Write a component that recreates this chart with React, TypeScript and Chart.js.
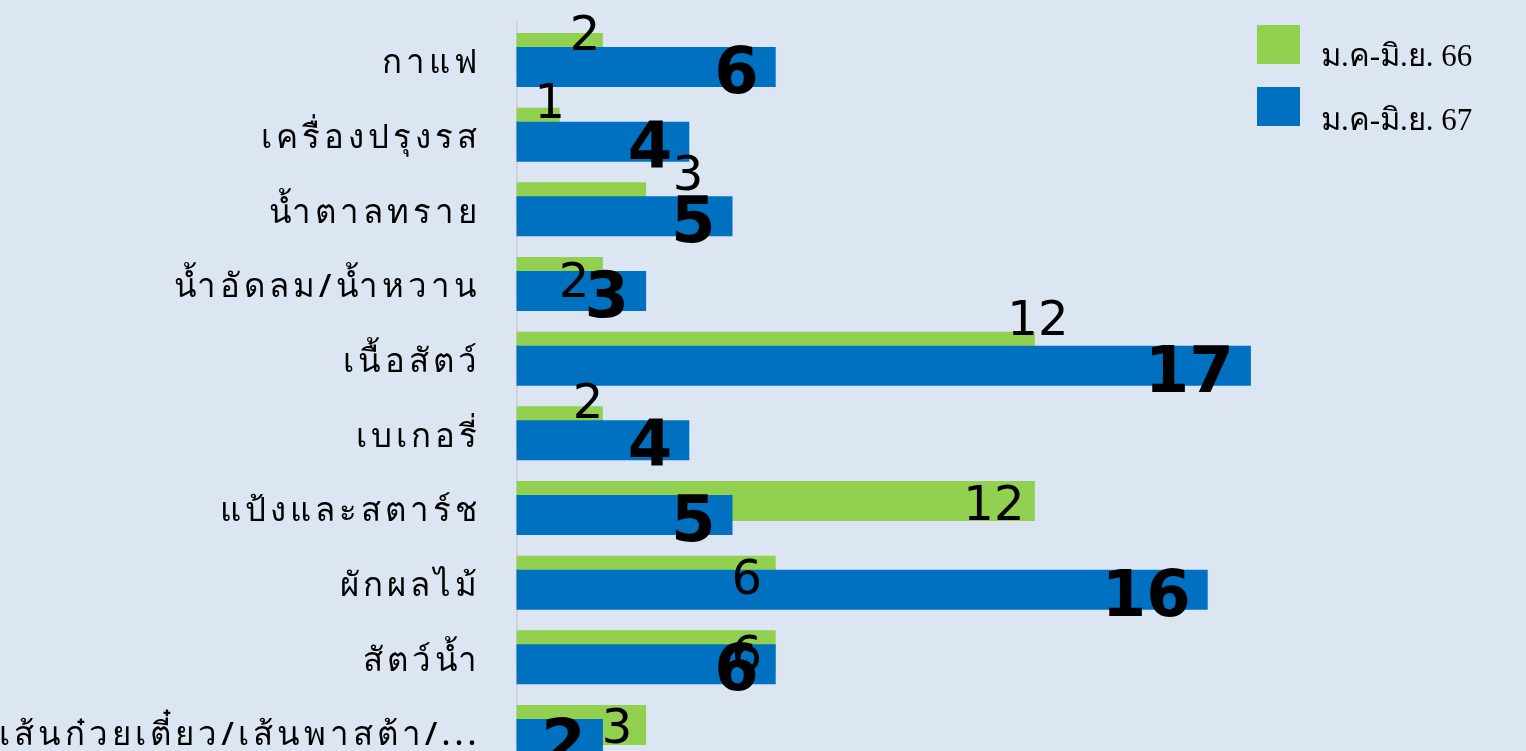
import React, { useEffect, useRef } from 'react';
import { Chart, registerables } from 'chart.js';

Chart.register(...registerables);

// ---------- data ----------
const categories = [
  'กาแฟ',
  'เครื่องปรุงรส',
  'น้ำตาลทราย',
  'น้ำอัดลม/น้ำหวาน',
  'เนื้อสัตว์',
  'เบเกอรี่',
  'แป้งและสตาร์ช',
  'ผักผลไม้',
  'สัตว์น้ำ',
  'เส้นก๋วยเตี๋ยว/เส้นพาสต้า/...',
];
const series66Label = 'ม.ค-มิ.ย. 66';
const series67Label = 'ม.ค-มิ.ย. 67';
const values66 = [2, 1, 3, 2, 12, 2, 12, 6, 6, 3];
const values67 = [6, 4, 5, 3, 17, 4, 5, 16, 6, 2];

// manual nudges (px) of the 66 value labels, relative to the bar end / bar centre
const label66NudgeX = [-18, -10, 42, -29, 3, -15, -41, -29, -29, -29];
const label66NudgeY = [-21, -27, -30, 2, -34, -26, 1, 1, 2, 0];

// ---------- style / layout ----------
const BG = '#DCE6F2';
const GREEN = '#92D050';
const BLUE = '#0070C0';

const W = 1526;
const VIEW_H = 751;
const H = 790;
const PLOT_LEFT = 516.5;
const X_MAX = 20;
const UNIT = 43.2;
const PLOT_RIGHT = PLOT_LEFT + UNIT * X_MAX;
const BAND = 74.67;
const PLOT_TOP = 60 - BAND / 2;
const PLOT_BOTTOM = PLOT_TOP + BAND * categories.length;
const TICK_SPACING = 4;

const bgPlugin = {
  id: 'bg',
  beforeDraw(chart: any) {
    const { ctx } = chart;
    ctx.save();
    ctx.fillStyle = BG;
    ctx.fillRect(0, 0, chart.width, chart.height);
    ctx.restore();
    // spaced-out category labels, as in the source
    ctx.letterSpacing = TICK_SPACING + 'px';
  },
};

// draw green first, blue on top (keeps green in the upper slot)
const orderPlugin = {
  id: 'drawOrder',
  beforeDatasetsDraw(chart: any) {
    chart.data.datasets.forEach((_: any, i: number) => {
      const meta = chart.getDatasetMeta(i);
      if (!meta.hidden) meta.controller.draw();
    });
    return false;
  },
};

const labelsPlugin = {
  id: 'valueLabels',
  afterDraw(chart: any) {
    const { ctx } = chart;
    ctx.letterSpacing = '0px';
    ctx.save();
    ctx.fillStyle = '#000';

    const m0 = chart.getDatasetMeta(0);
    ctx.font = '48px "DejaVu Sans"';
    ctx.textAlign = 'center';
    ctx.textBaseline = 'alphabetic';
    m0.data.forEach((bar: any, i: number) => {
      const { x, y } = bar.getProps(['x', 'y'], true);
      ctx.fillText(String(values66[i]), x + label66NudgeX[i], y + label66NudgeY[i] + 17.5);
    });

    const m1 = chart.getDatasetMeta(1);
    ctx.font = 'bold 64px "DejaVu Sans"';
    ctx.textAlign = 'right';
    m1.data.forEach((bar: any, i: number) => {
      const { x, y } = bar.getProps(['x', 'y'], true);
      ctx.fillText(String(values67[i]), x - 17, y + 26);
    });

    // legend
    ctx.textAlign = 'left';
    ctx.font = '31px "Liberation Serif", serif';
    chart.data.datasets.forEach((ds: any, i: number) => {
      ctx.fillStyle = ds.backgroundColor;
      ctx.fillRect(1257, 25 + i * 62, 43, 39);
      ctx.fillStyle = '#000';
      ctx.fillText(ds.label, 1321, 65.5 + i * 64);
    });
    ctx.restore();
  },
};

export default function App() {
  const ref = useRef<HTMLCanvasElement>(null);

  useEffect(() => {
    document.body.style.margin = '0';
    document.body.style.background = BG;
    document.body.style.overflow = 'hidden';
    const canvas = ref.current!;
    const chart = new Chart(canvas, {
      type: 'bar',
      data: {
        labels: categories,
        datasets: [
          {
            label: series66Label,
            data: values66,
            backgroundColor: GREEN,
            borderWidth: 0,
            categoryPercentage: 28 / BAND,
            barPercentage: 40 / 14,
          },
          {
            label: series67Label,
            data: values67,
            backgroundColor: BLUE,
            borderWidth: 0,
            categoryPercentage: 28 / BAND,
            barPercentage: 40 / 14,
          },
        ],
      },
      options: {
        indexAxis: 'y',
        responsive: false,
        animation: false,
        events: [],
        devicePixelRatio: 1,
        layout: {
          padding: {
            left: 0,
            right: W - PLOT_RIGHT,
            top: PLOT_TOP,
            bottom: H - PLOT_BOTTOM,
          },
        },
        plugins: {
          legend: { display: false },
          tooltip: { enabled: false },
        },
        scales: {
          x: { display: false, min: 0, max: X_MAX },
          y: {
            type: 'category',
            offset: true,
            grid: { display: false, drawTicks: false },
            border: { display: true, color: '#D4D4D4', width: 2 },
            ticks: {
              color: '#000',
              autoSkip: false,
              padding: 40 - TICK_SPACING,
              labelOffset: 4,
              font: { family: '"Noto Sans", sans-serif', size: 33, weight: '500' },
            },
            afterFit(scale: any) {
              scale.width = PLOT_LEFT;
              scale.paddingTop = 0;
              scale.paddingBottom = 0;
            },
          },
        },
      },
      plugins: [bgPlugin, orderPlugin, labelsPlugin],
    } as any);
    return () => chart.destroy();
  }, []);

  return (
    <div style={{ width: W, height: VIEW_H, overflow: 'hidden', background: BG }}>
      <canvas ref={ref} width={W} height={H} style={{ display: 'block' }} />
    </div>
  );
}
